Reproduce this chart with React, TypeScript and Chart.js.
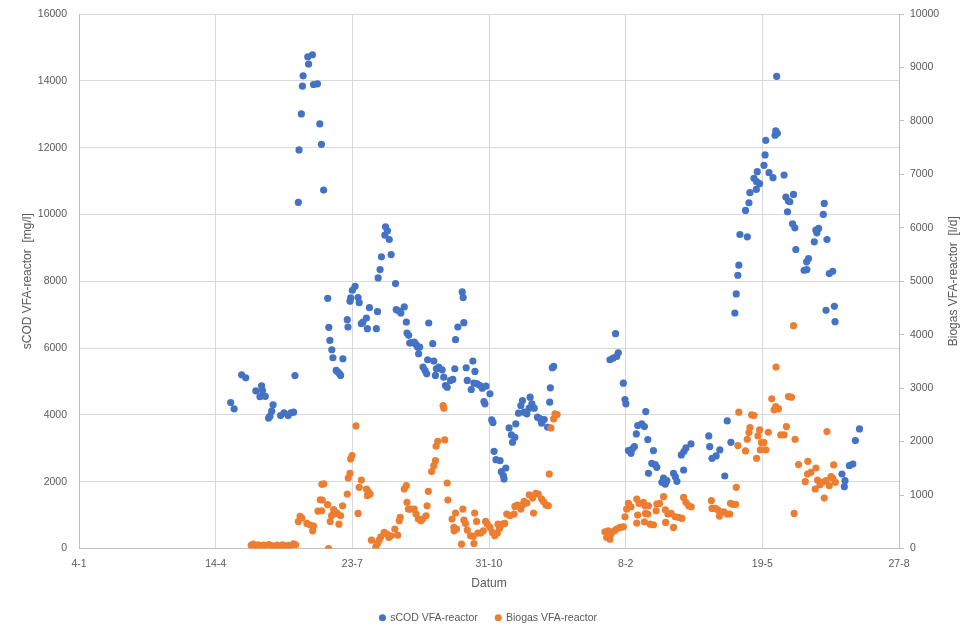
import { useEffect, useRef } from "react";
import { Chart, ChartConfiguration, registerables } from "chart.js";

Chart.register(...registerables);

// x = days since 4-1 (Excel date axis, major unit 100 days)
const xTickLabels = ["4-1", "14-4", "23-7", "31-10", "8-2", "19-5", "27-8"];

const leftTitle = "sCOD VFA-reactor  [mg/l]";
const rightTitle = "Biogas VFA-reactor  [l/d]";
const seriesNames = ["sCOD VFA-reactor", "Biogas VFA-reactor"];

// [day, mg/l]
const scod: [number, number][] = [
  [111, 4370], [113.5, 4180], [119, 5200], [122, 5110], [129.4, 4720], [132.4, 4545], [133.6, 4870],
  [134.3, 4730], [136.3, 4555], [138.7, 3905], [139.7, 3960], [141, 4110], [142, 4300], [147.5, 3980],
  [150, 4060], [153, 3980], [155, 4060], [157, 4080], [158, 5175], [160.5, 10360], [161, 11930],
  [162.7, 13010], [163.5, 13840], [164, 14150], [167.4, 14720], [168, 14500], [170.8, 14780],
  [171.6, 13890], [174.5, 13910], [176.2, 12710], [177.4, 12100], [179, 10730],
  [182, 7490], [182.8, 6620], [183.6, 6230], [185, 5950], [185.8, 5710], [188.2, 5330], [189.5, 5280],
  [190.7, 5230], [191.4, 5180], [193.1, 5680], [196.3, 6850], [196.8, 6630], [198.3, 7400], [198.8, 7500],
  [200, 7730], [202, 7850], [204.2, 7510], [205, 7360], [206.6, 6730], [207.8, 6780], [210.3, 6900],
  [211, 6580], [212.5, 7210], [217.6, 6580], [218.4, 7090], [218.9, 8100], [220.3, 8350], [221.3, 8730],
  [223.8, 9380], [224.3, 9630], [225.7, 9510], [227, 9250], [228.4, 8800], [231.6, 7930], [232.1, 7150],
  [234.1, 7110], [235.5, 7050], [238, 7230], [239.5, 6780], [240, 6450], [241.2, 6380], [242, 6150],
  [243.4, 6160], [245.3, 6180], [246.6, 6110], [247.8, 6030], [248.5, 5830], [249.3, 6030], [251.7, 5430],
  [253.2, 5330], [254.4, 5230], [255.1, 5650], [255.9, 6750],
  [258.8, 6130], [259.6, 5610], [260.8, 5180], [261.5, 5380], [263.2, 5430], [265.7, 5350], [266.9, 5130],
  [268.1, 4880], [269.4, 4830], [271.8, 5030], [273.5, 5060], [275, 5380], [275.5, 6250], [277.2, 6630],
  [280.4, 7680], [281.1, 7510], [281.6, 6760], [283.3, 5410], [284.1, 5030], [287, 4760], [288.2, 5610],
  [289, 4950], [289.7, 5300], [291.4, 4930], [293.4, 4880], [295.1, 4800], [296.3, 4400], [297, 4330],
  [297.8, 4860], [300.7, 4630], [302, 3850], [302.9, 3770], [303.7, 2910], [305.1, 2660], [308.1, 2630],
  [309, 2300], [310.5, 2180], [311, 2080], [312.3, 2410], [314.7, 3610], [316.4, 3400], [317.2, 3180],
  [318.9, 3330], [319.6, 3730], [321.6, 4050], [323.3, 4280], [324.5, 4430], [325.7, 4080], [327.7, 4030],
  [329.4, 4200], [330.1, 4530], [331.4, 4330], [333.1, 4200], [335.5, 3930], [337.5, 3880], [338.5, 3750],
  [340.4, 3860], [342.9, 3630], [344.4, 4380], [344.9, 4810], [346.3, 5410], [347.3, 5450],
  [388.5, 5650], [390.9, 5700], [392.6, 6430], [393.4, 5750], [394.6, 5860], [398.3, 4950], [399.5, 4460],
  [400.2, 4330], [402, 2930], [403.9, 2850], [404.9, 2980], [406.4, 3050], [407.8, 3430], [408.8, 3680],
  [411.8, 3730], [413.7, 3650], [414.7, 4100], [416.2, 3260], [416.7, 2250], [419.1, 2550], [420.3, 2930],
  [421.6, 2510], [422.8, 2430], [426.5, 1980], [427.7, 2110], [429, 1930], [430.1, 2030], [435, 2250],
  [436.3, 2150], [437.5, 2010], [440.7, 2800], [442.4, 2350], [442.6, 2900], [444.1, 3010], [447.8, 3130],
  [460.8, 3370], [461.5, 3050], [463.2, 2700], [466.2, 2770], [468.9, 2950], [472.5, 2170], [474.3, 3820],
  [477, 3180], [479.9, 7050], [480.9, 7620], [482.1, 8180], [482.8, 8480], [483.6, 9400], [487.7, 10120],
  [489, 9330], [490.2, 10350], [490.9, 10650], [493.9, 11080], [495.6, 10750], [495.8, 10980],
  [496.3, 11280], [498, 10920], [501.2, 11470], [502, 11780], [502.5, 12220], [504.9, 11250],
  [507.8, 11100], [509.3, 12370], [509.8, 12500], [510.5, 14130], [511, 12430], [515.9, 11180],
  [517.2, 10520], [518.4, 10080], [519.1, 10400], [520.1, 10380], [522.1, 9720], [522.8, 10600],
  [523.8, 9600], [524.5, 8950],
  [530.6, 8330], [532.4, 8580], [532.6, 8350], [533.8, 8680], [538, 9180], [539.2, 9530], [539.9, 9450],
  [541.2, 9580], [544.6, 10000], [545.3, 10330], [546.6, 7130], [547.3, 9250], [549, 8230], [551.5, 8300],
  [552.7, 7250], [553.2, 6790], [558.3, 2230], [560, 1850], [560.5, 2030], [563.7, 2480], [566.2, 2530],
  [568.1, 3230], [571.1, 3580],
];

// [day, l/d]
const biogas: [number, number][] = [
  [126, 60], [127.5, 80], [129, 50], [131, 70], [133, 45], [135, 65], [137, 50], [139, 75], [141, 55],
  [143, 40], [145, 65], [147, 45], [149, 70], [151, 35], [153, 60], [155, 50], [157, 85], [158.5, 70],
  [160.5, 504], [161.8, 600], [163, 570], [166.7, 470], [169, 440], [171, 330], [171.6, 420], [174.8, 700],
  [176.5, 910], [177.5, 706], [178, 906], [177.7, 1200], [179.2, 1210], [181.9, 820], [182.6, 0],
  [183.8, 504], [184.8, 613], [186, 644], [186.3, 730], [187.7, 675], [189, 656], [190.2, 456],
  [191.4, 613], [192.9, 800], [196.3, 1019], [197, 1319], [198.3, 1406], [198.8, 1675], [199.8, 1738],
  [202.7, 2294], [204.2, 656], [205, 1144], [206.6, 1281], [210.3, 1113], [211, 988], [211.5, 1069],
  [213, 1019], [214, 156], [217.2, 31], [218.4, 94], [219.6, 156], [220.8, 219], [223.3, 300],
  [225.2, 269], [226.7, 206], [228.2, 238], [231.1, 363], [233.1, 250], [234.3, 519], [235, 581],
  [238, 1113], [239.5, 1175], [240, 863], [241, 738], [243, 738], [245.3, 738], [246.6, 644], [248.3, 550],
  [250.2, 519], [251.5, 550], [253.9, 613], [254.7, 800], [255.6, 1069], [258, 1440], [259.6, 1550],
  [260.8, 1644], [261.3, 1913], [262.5, 2006], [266.4, 2675], [267, 2625], [267.6, 2031], [269.4, 1225],
  [269.9, 906], [273, 550], [274.3, 394], [274.5, 331], [275.5, 663], [276.2, 363], [279.9, 81],
  [280.9, 738], [281.6, 531], [282.8, 469], [284.1, 344], [286.5, 238], [288.5, 225], [289, 94],
  [289.5, 663], [290.9, 506], [291.9, 288], [293.9, 288], [295.8, 331], [297.5, 506], [298.8, 456],
  [300.7, 394], [302.5, 300], [304.2, 238], [306.1, 288], [306.6, 456], [307.8, 381], [309.8, 456],
  [311.5, 469], [313, 644], [315.4, 613], [318.4, 644], [318.9, 788], [320.8, 813], [323.3, 738],
  [324.5, 813], [325.7, 881], [327.7, 850], [329.4, 1006], [331.9, 944], [332.6, 663], [334.3, 1031],
  [336, 1019], [338.5, 925], [340, 875], [341.7, 813], [343.4, 800], [344.1, 1394], [345.3, 2256],
  [347.3, 2425], [348.3, 2519], [349.8, 2506],
  [384.8, 313], [386.1, 206], [387.3, 331], [388.5, 175], [389.3, 269], [391.7, 331], [393.4, 363],
  [395.8, 394], [398.3, 406], [399.5, 594], [400.7, 738], [402, 844], [403.9, 781], [408.1, 925],
  [408.1, 475], [408.8, 625], [409.8, 844], [413, 863], [413.7, 500], [414.2, 800], [414.4, 656],
  [416.2, 644], [416.7, 800], [417.9, 456], [420.3, 444], [422.3, 706], [422.8, 831], [424.8, 844],
  [427.7, 969], [429, 725], [429.2, 488], [430.9, 644], [433.3, 656], [435, 394], [436.3, 594],
  [438.7, 581], [441.2, 563], [442.4, 956], [444.1, 863], [446.1, 800], [448, 781],
  [462.7, 894], [463.2, 750], [465.7, 750], [467.6, 719], [468.6, 606], [471.8, 688], [474.3, 644],
  [476.2, 644], [476.7, 844], [478.4, 825], [480.4, 825], [480.9, 1144], [482.1, 1925], [482.8, 2550],
  [487.7, 1825], [489, 2044], [490.2, 2169], [490.9, 2263], [492.2, 2500], [493.9, 2488], [495.8, 1688],
  [496.8, 2106], [498, 2219], [498.5, 1844], [499.3, 1981], [501.2, 1981], [502.5, 1844], [504.4, 2175],
  [506.9, 2800], [508.6, 2594], [509.8, 2656], [510, 3394], [511.8, 2613], [513.5, 2125], [515.9, 2125],
  [517.6, 2281], [519.1, 2844], [521.3, 2831], [522.8, 4169], [523.3, 656], [524, 2044], [526.5, 1570],
  [531.4, 1250], [533.1, 1394], [533.3, 1631], [535.5, 1425], [538.7, 1113], [539.2, 1506], [540.4, 1281],
  [542.2, 1194], [544.1, 1238], [545.3, 944], [546.6, 1269], [547.3, 2188], [549, 1175], [550.2, 1344],
  [551.5, 1313], [552.2, 1563], [553.4, 1238],
];

const textColor = "#595959";
const gridColor = "#d9d9d9";
const axisColor = "#bfbfbf";
const fontFamily = '"Liberation Sans", Arial, sans-serif';

// Excel draws the secondary title bottom-to-top, Chart.js would rotate it the other way
const rightTitlePlugin = {
  id: "rightTitle",
  afterDraw(chart: Chart) {
    const { ctx, chartArea } = chart;
    ctx.save();
    ctx.translate(chart.width - 23, (chartArea.top + chartArea.bottom) / 2);
    ctx.rotate(-Math.PI / 2);
    ctx.font = `12px ${fontFamily}`;
    ctx.fillStyle = textColor;
    ctx.textAlign = "center";
    ctx.textBaseline = "middle";
    ctx.fillText(rightTitle, 0, 0);
    ctx.restore();
  },
};

const plain = (value: number | string) => String(value);

const App = () => {
  const canvasRef = useRef<HTMLCanvasElement | null>(null);

  useEffect(() => {
    if (!canvasRef.current) return;

    const config: ChartConfiguration<"scatter"> = {
      type: "scatter",
      data: {
        datasets: [
          {
            label: seriesNames[0],
            data: scod.map(([x, y]) => ({ x, y })),
            yAxisID: "y",
            backgroundColor: "#4472C4",
            borderColor: "#4472C4",
            borderWidth: 0,
            pointRadius: 3.6,
            order: 1,
          },
          {
            label: seriesNames[1],
            data: biogas.map(([x, y]) => ({ x, y })),
            yAxisID: "y1",
            backgroundColor: "#ED7D31",
            borderColor: "#ED7D31",
            borderWidth: 0,
            pointRadius: 3.6,
            order: 0,
          },
        ],
      },
      plugins: [rightTitlePlugin],
      options: {
        responsive: true,
        maintainAspectRatio: false,
        animation: false,
        layout: { padding: { top: 14, bottom: -3, left: 0, right: 0 } },
        plugins: {
          tooltip: { enabled: false },
          legend: {
            position: "bottom",
            labels: {
              usePointStyle: true,
              pointStyle: "circle",
              boxWidth: 5,
              boxHeight: 5,
              padding: 18,
              color: textColor,
              font: { family: fontFamily, size: 10.5 },
              sort: (a, b) => (a.datasetIndex ?? 0) - (b.datasetIndex ?? 0),
            },
          },
        },
        scales: {
          x: {
            type: "linear",
            min: 0,
            max: 600,
            afterFit: (scale) => {
              scale.height = 46;
            },
            ticks: {
              stepSize: 100,
              autoSkip: false,
              maxRotation: 0,
              padding: 9,
              color: textColor,
              font: { family: fontFamily, size: 10.5 },
              callback: (_value, index) => xTickLabels[index],
            },
            grid: { color: gridColor, drawTicks: false },
            border: { color: axisColor },
            title: {
              display: true,
              text: "Datum",
              color: textColor,
              font: { family: fontFamily, size: 12 },
              padding: { top: 4, bottom: 4 },
            },
          },
          y: {
            position: "left",
            min: 0,
            max: 16000,
            afterFit: (scale) => {
              scale.width = 79;
            },
            ticks: {
              stepSize: 2000,
              padding: 0,
              color: textColor,
              font: { family: fontFamily, size: 10.5 },
              callback: plain,
            },
            // invisible tick marks give the label gap without growing the top padding
            grid: { color: gridColor, tickLength: 12, tickColor: "rgba(0,0,0,0)" },
            border: { color: axisColor },
            title: {
              display: true,
              text: leftTitle,
              color: textColor,
              font: { family: fontFamily, size: 12 },
              padding: { top: 20, bottom: 0 },
            },
          },
          y1: {
            position: "right",
            min: 0,
            max: 10000,
            afterFit: (scale) => {
              scale.width = 78;
            },
            ticks: {
              stepSize: 1000,
              padding: 6,
              color: textColor,
              font: { family: fontFamily, size: 10.5 },
              callback: plain,
            },
            grid: {
              drawOnChartArea: false,
              color: axisColor,
              tickLength: 5,
            },
            border: { color: axisColor },
          },
        },
      },
    };

    const chart = new Chart(canvasRef.current, config);
    return () => {
      chart.destroy();
    };
  }, []);

  return (
    <div
      style={{
        position: "absolute",
        left: 0,
        top: 0,
        width: 977,
        height: 630,
        background: "#fff",
      }}
    >
      <canvas ref={canvasRef} />
    </div>
  );
};

export default App;
